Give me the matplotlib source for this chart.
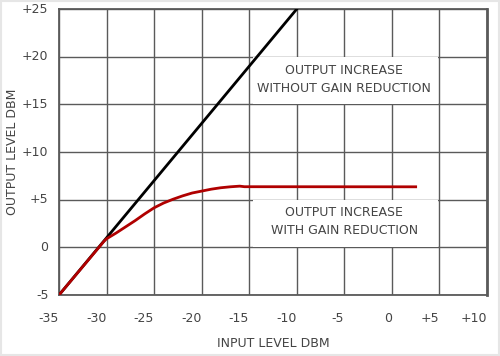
import numpy
from matplotlib import pyplot
from matplotlib.patches import Rectangle

# input level (dBm) vs output level (dBm)
linear_x = [-35, -10]
linear_y = [-5, 25]

limited_x = [-35, -30.3, -30, -29.5, -29, -28, -27, -26, -25, -24, -23, -22, -21, -20,
             -19, -18, -17, -16, -15.5, 2.5]
limited_y = [-5, 0.6, 0.9, 1.2, 1.5, 2.15, 2.8, 3.5, 4.15, 4.65, 5.05, 5.4, 5.7, 5.9,
             6.1, 6.25, 6.35, 6.42, 6.36, 6.35]

x_ticks = [-35, -30, -25, -20, -15, -10, -5, 0, 5, 10]
x_tick_labels = ["-35", "-30", "-25", "-20", "-15", "-10", "-5", "0", "+5", "+10"]
y_ticks = [-5, 0, 5, 10, 15, 20, 25]
y_tick_labels = ["-5", "0", "+5", "+10", "+15", "+20", "+25"]

font = "DejaVu Sans"
text_color = "#444444"
grid_color = "#5a5a5a"

fig = pyplot.figure(figsize=(5.0, 3.56), dpi=100)
fig.patch.set_facecolor("white")
ax = fig.add_axes([0.118, 0.1713, 0.856, 0.8034])

ax.set_xlim(-35, 10)
ax.set_ylim(-5, 25)
ax.set_xticks(x_ticks)
ax.set_yticks(y_ticks)
ax.set_xticklabels([])
ax.set_yticklabels([])
ax.tick_params(length=0)
ax.grid(True, color=grid_color, linewidth=1.0)
ax.set_axisbelow(True)
for side in ax.spines.values():
    side.set_color(grid_color)
    side.set_linewidth(1.3)
ax.spines["right"].set_linewidth(2.0)

# x tick labels are right-aligned on the gridline
for value, label in zip(x_ticks, x_tick_labels):
    ax.text(value, -7.5, label, ha="right", va="center", fontsize=9,
            family=font, color=text_color, clip_on=False)
for value, label in zip(y_ticks, y_tick_labels):
    ax.text(-36.1, value, label, ha="right", va="center", fontsize=9,
            family=font, color=text_color, clip_on=False)

ax.text(-12.5, -10.1, "INPUT LEVEL DBM", ha="center", va="center", fontsize=9,
        family=font, color=text_color, clip_on=False)
ax.text(-39.9, 10, "OUTPUT LEVEL DBM", ha="center", va="center", fontsize=9,
        rotation=90, family=font, color=text_color, clip_on=False)

# white panels that blank the grid behind the two notes
ax.add_patch(Rectangle((-14.6, 15.08), 19.4, 4.84, facecolor="white",
                       edgecolor="none", zorder=2))
ax.add_patch(Rectangle((-14.6, 0.08), 19.4, 4.84, facecolor="white",
                       edgecolor="none", zorder=2))
ax.text(-5, 17.6, "OUTPUT INCREASE\nWITHOUT GAIN REDUCTION", ha="center", va="center",
        fontsize=9, family=font, color=text_color, linespacing=1.45, zorder=3)
ax.text(-5, 2.7, "OUTPUT INCREASE\nWITH GAIN REDUCTION", ha="center", va="center",
        fontsize=9, family=font, color=text_color, linespacing=1.45, zorder=3)

ax.plot(linear_x, linear_y, color="black", linewidth=2.0, zorder=4)
ax.plot(limited_x, limited_y, color="#b00000", linewidth=2.0, zorder=5,
        solid_joinstyle="round")

# thin light frame round the picture
fig.add_artist(Rectangle((0.002, 0.003), 0.995, 0.994, transform=fig.transFigure,
                         fill=False, edgecolor="#e6e6e6", linewidth=1.5))

fig.savefig("out.png", dpi=100)
